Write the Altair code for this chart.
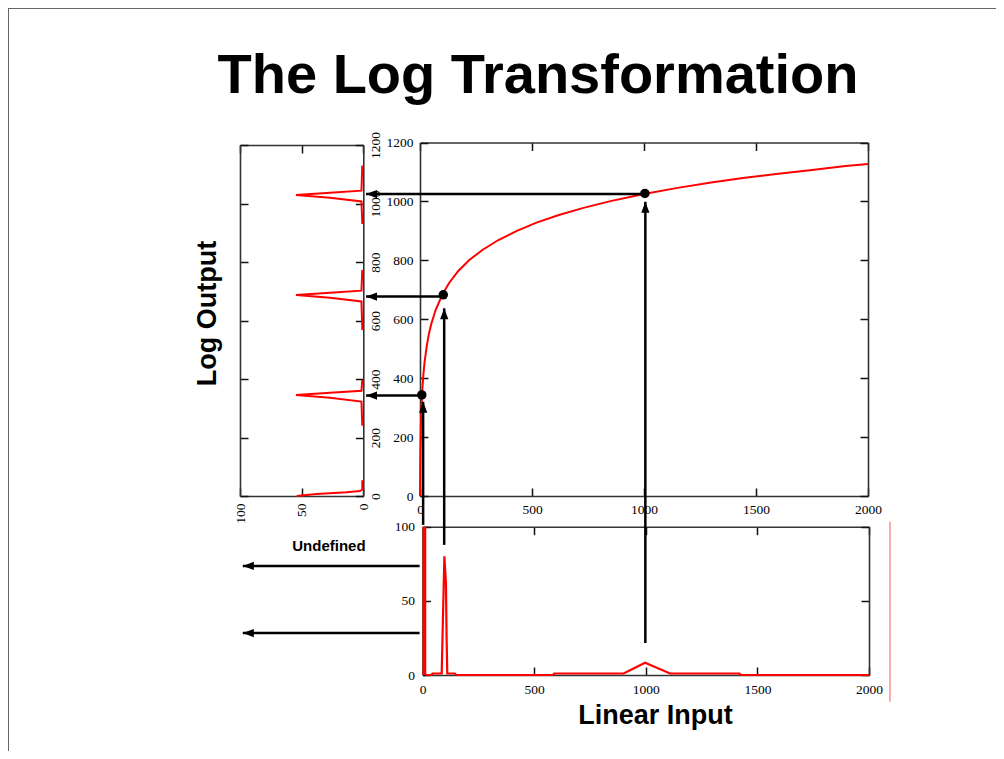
import altair as alt
import pandas as pd

W, H = 988, 743
SERIF = "Liberation Serif"
SANS = "Liberation Sans"
RED = "#ff0000"

# ---------------- data ----------------
# main panel: linear input (0..2000) -> log output (0..1200)
curve_x = [0, 1, 2, 4, 7, 10, 15, 20, 30, 40, 50, 70, 100, 130, 170, 220, 280, 350,
           430, 520, 620, 730, 850, 1000, 1150, 1300, 1450, 1600, 1750, 1900, 2000]
curve_y = [0, 103, 163, 239, 308, 356, 411, 452, 509, 551, 583, 632, 684, 723, 763, 801,
           836, 869, 899, 928, 954, 978, 1001, 1025, 1046, 1064, 1080, 1094, 1107, 1120, 1127]
dot_x = [8, 104, 1004]
dot_y = [343, 683, 1027]

# left panel: histogram of the output (count vs output value)
out_seg = [0] * 6 + [1] * 7 + [2] * 7 + [3] * 7
out_count = [54, 38, 13.5, 2.7, 0.8, 0.8,
             0.8, 1.5, 27, 54.6, 27, 1.5, 0.8,
             0.8, 1.5, 27, 54.6, 27, 1.5, 0.8,
             0.8, 1.5, 27, 54.6, 27, 1.5, 0.8]
out_value = [0, 7, 12.6, 17, 22, 54,
             240, 323, 336, 345, 353, 360, 397,
             567, 665, 678, 687, 695, 702, 773,
             930, 1007, 1020, 1029, 1037, 1044, 1130]

# bottom panel: histogram of the input
in_bin_start = [0]
in_bin_end = [17]
in_bin_count = [100]
in_x = [17, 40, 45, 86, 90, 98, 105, 108, 111, 145, 150, 585, 590, 901, 997, 1109, 1420, 1425, 2000]
in_y = [0, 0, 1, 1, 28, 80, 62, 25, 1, 1, 0, 0, 1, 1, 8.3, 1, 1, 0, 0]

# arrows (in the units of the panel they are drawn in)
h_arrow_from = [8, 104, 1004]
h_arrow_y = [341, 677, 1025]
h_arrow_tip = [-241, -241, -241]
v_arrow_x = [14, 108, 1006]
v_arrow_from = [-98, -166, -499]
v_arrow_tip = [320, 637, 999]
out_arrow_y = [73.5, 28.3]
out_arrow_from = [-13, -13]
out_arrow_tip = [-805, -805]
note_text = ["Undefined"]
note_x = [-419]
note_y = [87]
edge_x = [2094]
edge_y0 = [-18]
edge_y1 = [103.4]

# tick values
main_x_ticks = [0, 500, 1000, 1500, 2000]
main_y_ticks = [0, 200, 400, 600, 800, 1000, 1200]
count_ticks = [0, 50, 100]

# ---------------- panel scales (pixel ranges inside the chart) ----------------
MX = ([0, 2000], [412, 860])
MY = ([0, 1200], [488, 134.5])
LX = ([0, 100], [355.3, 232])
LY = ([0, 1200], [488, 137])
BX = ([0, 2000], [414.5, 861])
BY = ([0, 100], [667, 518.7])

LABEL_SIZE = 13.5


def sc(s):
    return alt.Scale(domain=s[0], range=s[1], nice=False, zero=False)


def lab_axis(orient, offset, values, pad, **kw):
    base = dict(orient=orient, offset=offset, values=values, ticks=False, tickSize=0,
                domain=False, labelPadding=pad, format="d", grid=False,
                labelFont=SERIF, labelFontSize=LABEL_SIZE, labelColor="black",
                labelFlush=False, labelOverlap=False)
    base.update(kw)
    if "title" not in base:
        base["title"] = None
    return alt.Axis(**base)


def frame_axis(orient, offset, values, **kw):
    base = dict(orient=orient, offset=offset, values=values, labels=False, ticks=True,
                tickSize=8, tickWidth=1.5, tickColor="#111", domain=True,
                domainWidth=1.6, domainColor="#333", grid=False)
    base.update(kw)
    if "title" not in base:
        base["title"] = None
    return alt.Axis(**base)


dummy = pd.DataFrame({"a": [0], "b": [0]})


def axis_layer(xs, xaxis, ys, yaxis):
    return alt.Chart(dummy).mark_point(opacity=0).encode(
        x=alt.X("a:Q", scale=sc(xs), axis=xaxis),
        y=alt.Y("b:Q", scale=sc(ys), axis=yaxis),
    )


layers = []

# ---- main panel axes ----
layers.append(axis_layer(MX, lab_axis("bottom", 488 - H, main_x_ticks, 6),
                         MY, lab_axis("left", -412, main_y_ticks, 7)))
layers.append(axis_layer(MX, frame_axis("top", -488, main_x_ticks),
                         MY, frame_axis("right", 412 - W, main_y_ticks)))
layers.append(axis_layer(
    MX, frame_axis("bottom", 134.5 - H, main_x_ticks,
                   title="The Log Transformation", titleX=529.5, titleY=-50,
                   titleAlign="center", titleBaseline="alphabetic", titleAngle=0,
                   titleFont=SANS, titleFontSize=56, titleFontWeight="bold",
                   titleColor="black"),
    MY, frame_axis("left", -860, main_y_ticks)))

# ---- left panel axes ----
layers.append(axis_layer(
    LX, lab_axis("bottom", 488 - H, count_ticks, 7, labelAngle=270,
                 labelAlign="right", labelBaseline="middle"),
    LY, lab_axis("right", 355.3 - W, main_y_ticks, 5, labelAngle=270,
                 labelAlign="center", labelBaseline="top")))
layers.append(axis_layer(LX, frame_axis("top", -488, count_ticks),
                         LY, frame_axis("left", -355.3, main_y_ticks)))
layers.append(axis_layer(LX, frame_axis("bottom", 137 - H, count_ticks),
                         LY, frame_axis("right", 232 - W, main_y_ticks)))
layers.append(axis_layer(
    LX, None,
    LY, alt.Axis(orient="left", offset=-232, domain=False, ticks=False, labels=False,
                 grid=False, title="Log Output", titleX=-25, titleY=305,
                 titleAngle=270, titleAlign="center", titleBaseline="alphabetic",
                 titleFont=SANS, titleFontSize=27, titleFontWeight="bold",
                 titleColor="black")))

# ---- bottom panel axes ----
layers.append(axis_layer(
    BX, lab_axis("bottom", 667 - H, main_x_ticks, 7, title="Linear Input",
                 titleX=647, titleY=48, titleAlign="center",
                 titleBaseline="alphabetic", titleAngle=0, titleFont=SANS,
                 titleFontSize=27, titleFontWeight="bold", titleColor="black"),
    BY, lab_axis("left", -414.5, count_ticks, 8)))
layers.append(axis_layer(BX, frame_axis("top", -667, main_x_ticks),
                         BY, frame_axis("right", 414.5 - W, count_ticks)))
layers.append(axis_layer(BX, frame_axis("bottom", 518.7 - H, main_x_ticks),
                         BY, frame_axis("left", -861, count_ticks)))

# ---- data marks ----
curve_df = pd.DataFrame({"x": curve_x, "y": curve_y})
layers.append(alt.Chart(curve_df).mark_line(color=RED, strokeWidth=2).encode(
    x=alt.X("x:Q", scale=sc(MX), axis=None),
    y=alt.Y("y:Q", scale=sc(MY), axis=None)))

out_df = pd.DataFrame({"c": out_count, "v": out_value, "seg": out_seg,
                       "i": list(range(len(out_count)))})
layers.append(alt.Chart(out_df).mark_line(color=RED, strokeWidth=2).encode(
    x=alt.X("c:Q", scale=sc(LX), axis=None),
    y=alt.Y("v:Q", scale=sc(LY), axis=None),
    detail="seg:N", order="i:Q"))

bin_df = pd.DataFrame({"x0": in_bin_start, "x1": in_bin_end, "h": in_bin_count,
                       "z": [0] * len(in_bin_start)})
layers.append(alt.Chart(bin_df).mark_rect(color=RED).encode(
    x=alt.X("x0:Q", scale=sc(BX), axis=None), x2="x1:Q",
    y=alt.Y("z:Q", scale=sc(BY), axis=None), y2="h:Q"))

in_df = pd.DataFrame({"x": in_x, "y": in_y, "i": list(range(len(in_x)))})
layers.append(alt.Chart(in_df).mark_line(color=RED, strokeWidth=2.2).encode(
    x=alt.X("x:Q", scale=sc(BX), axis=None),
    y=alt.Y("y:Q", scale=sc(BY), axis=None),
    order="i:Q"))

edge_df = pd.DataFrame({"x": edge_x, "y0": edge_y0, "y1": edge_y1})
layers.append(alt.Chart(edge_df).mark_rule(color="#f05a5a", strokeWidth=1).encode(
    x=alt.X("x:Q", scale=sc(BX), axis=None),
    y=alt.Y("y0:Q", scale=sc(BY), axis=None), y2="y1:Q"))

# horizontal arrows (main panel units)
ha_df = pd.DataFrame({"x0": h_arrow_from, "x1": h_arrow_tip, "y": h_arrow_y})
layers.append(alt.Chart(ha_df).mark_rule(color="black", strokeWidth=2.5).encode(
    x=alt.X("x0:Q", scale=sc(MX), axis=None), x2="x1:Q",
    y=alt.Y("y:Q", scale=sc(MY), axis=None)))
layers.append(alt.Chart(ha_df).mark_point(
    shape="M-1,0L1,-0.75L1,0.75Z", filled=True, size=121, color="black",
    opacity=1, xOffset=5.5).encode(
    x=alt.X("x1:Q", scale=sc(MX), axis=None),
    y=alt.Y("y:Q", scale=sc(MY), axis=None)))

# vertical arrows (main panel units)
va_df = pd.DataFrame({"x": v_arrow_x, "y0": v_arrow_from, "y1": v_arrow_tip})
layers.append(alt.Chart(va_df).mark_rule(color="black", strokeWidth=2.5).encode(
    x=alt.X("x:Q", scale=sc(MX), axis=None),
    y=alt.Y("y0:Q", scale=sc(MY), axis=None), y2="y1:Q"))
layers.append(alt.Chart(va_df).mark_point(
    shape="M0,-1L-0.75,1L0.75,1Z", filled=True, size=121, color="black",
    opacity=1, yOffset=5.5).encode(
    x=alt.X("x:Q", scale=sc(MX), axis=None),
    y=alt.Y("y1:Q", scale=sc(MY), axis=None)))

# dots on the curve
dot_df = pd.DataFrame({"x": dot_x, "y": dot_y})
layers.append(alt.Chart(dot_df).mark_circle(color="black", size=90, opacity=1).encode(
    x=alt.X("x:Q", scale=sc(MX), axis=None),
    y=alt.Y("y:Q", scale=sc(MY), axis=None)))

# arrows leaving the bottom panel (bottom panel units)
oa_df = pd.DataFrame({"x0": out_arrow_from, "x1": out_arrow_tip, "y": out_arrow_y})
layers.append(alt.Chart(oa_df).mark_rule(color="black", strokeWidth=2.5).encode(
    x=alt.X("x0:Q", scale=sc(BX), axis=None), x2="x1:Q",
    y=alt.Y("y:Q", scale=sc(BY), axis=None)))
layers.append(alt.Chart(oa_df).mark_point(
    shape="M-1,0L1,-0.75L1,0.75Z", filled=True, size=121, color="black",
    opacity=1, xOffset=5.5).encode(
    x=alt.X("x1:Q", scale=sc(BX), axis=None),
    y=alt.Y("y:Q", scale=sc(BY), axis=None)))

note_df = pd.DataFrame({"t": note_text, "x": note_x, "y": note_y})
layers.append(alt.Chart(note_df).mark_text(
    font=SANS, fontSize=15, fontWeight="bold", color="black",
    align="center", baseline="middle").encode(
    x=alt.X("x:Q", scale=sc(BX), axis=None),
    y=alt.Y("y:Q", scale=sc(BY), axis=None),
    text="t:N"))

# slide border (top and left edges)
layers.append(alt.Chart(dummy).mark_rule(color="#666", strokeWidth=1).encode(
    x=alt.value(0), x2=alt.value(W), y=alt.value(0.5)))
layers.append(alt.Chart(dummy).mark_rule(color="#666", strokeWidth=1).encode(
    x=alt.value(0.5), y=alt.value(0), y2=alt.value(H)))

chart = (
    alt.layer(*layers)
    .resolve_scale(x="independent", y="independent")
    .resolve_axis(x="independent", y="independent")
    .properties(width=W, height=H, padding=0,
                autosize=alt.AutoSizeParams(type="none"))
    .configure_view(stroke=None)
)

chart.save("out.html", embed_options={"renderer": "svg", "actions": False})
